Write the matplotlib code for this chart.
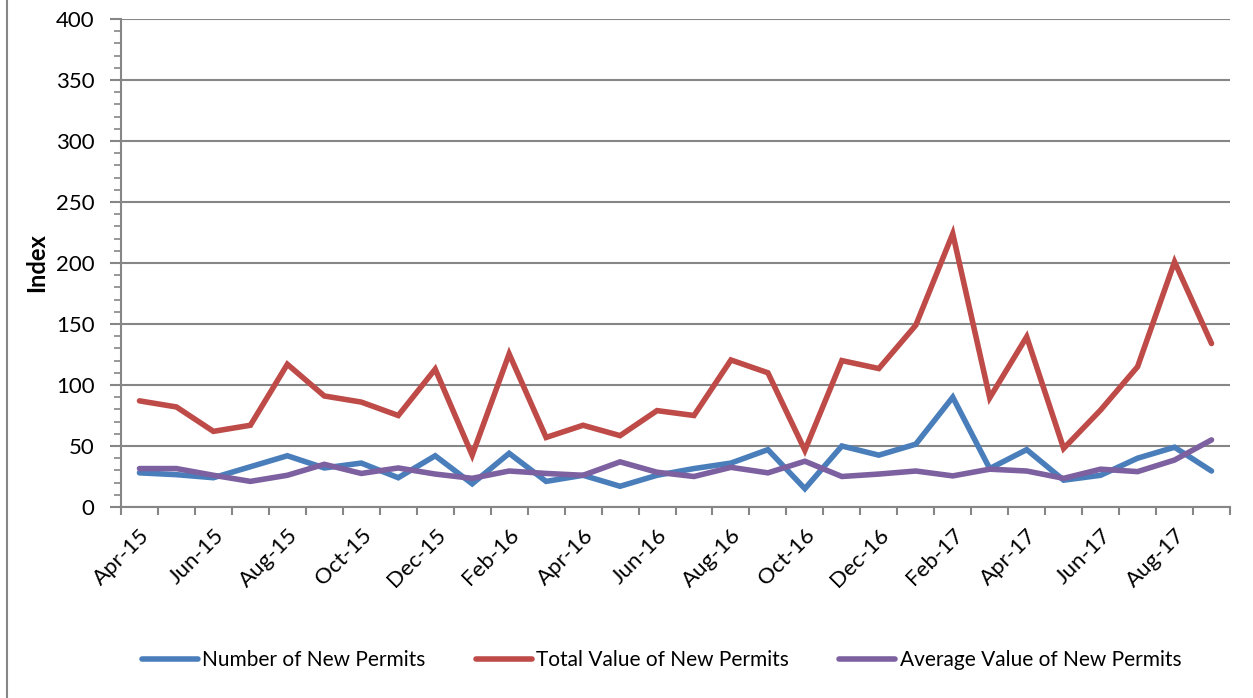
import matplotlib
matplotlib.use("Agg")
import matplotlib.pyplot as plt
from matplotlib.lines import Line2D

plt.rcParams['font.family'] = ['Lato', 'DejaVu Sans']

# Monthly index values, Apr-15 .. Sep-17
months = ['Apr-15', 'May-15', 'Jun-15', 'Jul-15', 'Aug-15', 'Sep-15', 'Oct-15', 'Nov-15',
          'Dec-15', 'Jan-16', 'Feb-16', 'Mar-16', 'Apr-16', 'May-16', 'Jun-16', 'Jul-16',
          'Aug-16', 'Sep-16', 'Oct-16', 'Nov-16', 'Dec-16', 'Jan-17', 'Feb-17', 'Mar-17',
          'Apr-17', 'May-17', 'Jun-17', 'Jul-17', 'Aug-17', 'Sep-17']

num_permits = [28, 26.5, 24, 33, 42, 32, 36, 24, 42, 19, 44, 21, 26, 17, 26, 31.5, 36, 47,
               15, 50, 42.5, 51.5, 90, 31.5, 47, 22, 26, 40, 49, 29.5]
total_value = [87, 82, 62, 67, 117, 91, 86, 75, 113, 42.5, 125.5, 57, 67, 58.5, 79, 75,
               120.5, 110, 46.5, 120, 113.5, 149, 224, 89.5, 139.5, 48, 79.5, 115, 201, 134]
avg_value = [31.5, 31.5, 26, 21, 26, 35, 27.5, 32, 27, 23.5, 29.5, 27.5, 26, 37, 28.5, 25,
             32.5, 28, 37.5, 25, 27, 29.5, 25.5, 31, 29.5, 23.5, 31, 29, 38.5, 55]

series = [
    ('Number of New Permits', num_permits, '#4A7EBB'),
    ('Total Value of New Permits', total_value, '#BE4B48'),
    ('Average Value of New Permits', avg_value, '#7D60A0'),
]

fig = plt.figure(figsize=(12.53, 6.98), dpi=100)
ax = fig.add_axes([121 / 1253, 1 - 507 / 698, (1230 - 121) / 1253, (507 - 19) / 698])

x = range(len(months))
for name, vals, col in series:
    ax.plot(x, vals, color=col, lw=4, solid_capstyle='round', solid_joinstyle='miter',
            label=name, zorder=3)

grid_col = '#868686'
ax.set_ylim(0, 400)
ax.set_xlim(-0.5, len(months) - 0.5)
ax.set_yticks(range(0, 401, 50))
ax.set_yticks(range(0, 401, 10), minor=True)
ax.yaxis.grid(True, which='major', color=grid_col, lw=1.5, zorder=1)

# category boundaries as ticks, labels on every other category
ax.set_xticks([i - 0.5 for i in range(len(months) + 1)])
ax.set_xticklabels([])
ax.set_xticks(list(range(0, len(months), 2)), minor=True)
ax.set_xticklabels(months[::2], minor=True, rotation=45, ha='right',
                   rotation_mode='anchor', fontsize=16)
ax.tick_params(axis='x', which='major', length=6, width=1.5, color=grid_col, direction='out')
ax.tick_params(axis='x', which='minor', length=0, pad=13)
ax.tick_params(axis='y', which='major', length=8, width=1.5, color=grid_col,
               labelsize=16, pad=11)
ax.tick_params(axis='y', which='minor', length=5, width=1.2, color=grid_col)

for s in ['top', 'right']:
    ax.spines[s].set_visible(False)
for s in ['left', 'bottom']:
    ax.spines[s].set_color(grid_col)
    ax.spines[s].set_linewidth(1.5)

ax.set_ylabel('Index', fontsize=17, fontweight='bold', labelpad=6)

fig.legend(loc='center', bbox_to_anchor=(0.528, 1 - 660 / 698), ncol=3, frameon=False,
           fontsize=15, handlelength=2.7, handletextpad=0.2, columnspacing=2.4)

# chart frame left edge
fig.add_artist(Line2D([7 / 1253, 7 / 1253], [0, 1], color=grid_col, lw=1.5))

fig.savefig('out.png', dpi=100)
